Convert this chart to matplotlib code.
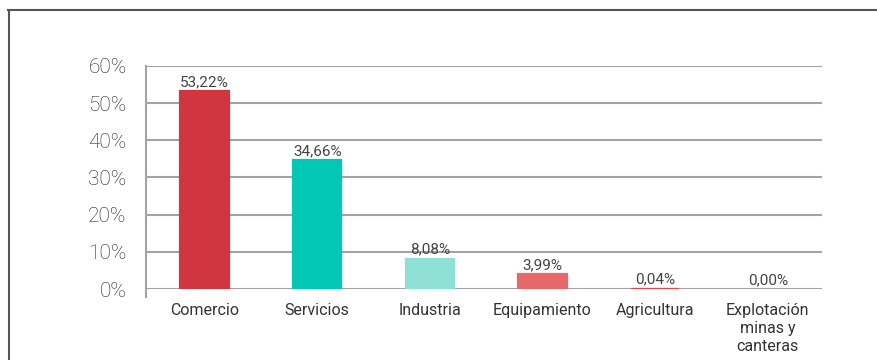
import matplotlib.pyplot as plt
from matplotlib.lines import Line2D
from matplotlib.ticker import FuncFormatter

# Distribución por sector
categories = ["Comercio", "Servicios", "Industria", "Equipamiento",
              "Agricultura", "Explotación\nminas y\ncanteras"]
values = [53.22, 34.66, 8.08, 3.99, 0.04, 0.00]
colors = ["#d13540", "#00c8b5", "#8ee0d5", "#e5696b", "#e0454d", "#d13540"]

plt.rcParams['font.family'] = ['Roboto', 'DejaVu Sans']

fig = plt.figure(figsize=(8.78, 3.6), dpi=100)
ax = fig.add_axes([0.1663, 0.197, 0.7697, 0.62])

x = [i + 0.02 for i in range(len(categories))]
edge_w = [1.6 if v > 0 else 0 for v in values]
ax.bar(x, values, width=0.43, color=colors, edgecolor=colors, linewidth=edge_w,
       zorder=3)

for xi, v in zip(x, values):
    ax.text(xi, v + 0.6, f"{v:.2f}%".replace(".", ","), ha='center', va='bottom',
            fontsize=11, color='#444444', zorder=4)

ax.set_xlim(-0.5, len(categories) - 0.5)
ax.set_ylim(0, 60)
ax.set_yticks(range(0, 61, 10))
ax.yaxis.set_major_formatter(FuncFormatter(lambda v, _: f"{v:.0f}%"))
ax.grid(axis='y', color='#a3a3a3', linewidth=1.5, zorder=0)
ax.set_xticks(x)
ax.set_xticklabels(categories, fontsize=11.5, color='#333333', va='top',
                   linespacing=1.25)
ax.tick_params(axis='x', length=0, pad=10)
ax.tick_params(axis='y', length=0, pad=14, labelsize=15, labelcolor='#222222')
for lbl in ax.get_yticklabels():
    lbl.set_fontweight('light')

for s in ['top', 'right', 'bottom']:
    ax.spines[s].set_visible(False)
ax.spines['left'].set_color('#a3a3a3')
ax.spines['left'].set_linewidth(1.5)
ax.spines['left'].set_bounds(-2.2, 60)

# outer frame: top and left edges
fig.add_artist(Line2D([8 / 878, 1], [1 - 9.5 / 360, 1 - 9.5 / 360],
                      color='#555555', linewidth=1.5))
fig.add_artist(Line2D([8.5 / 878, 8.5 / 878], [0, 1 - 9.5 / 360],
                      color='#555555', linewidth=1.5))

fig.savefig("out.png", dpi=100)
